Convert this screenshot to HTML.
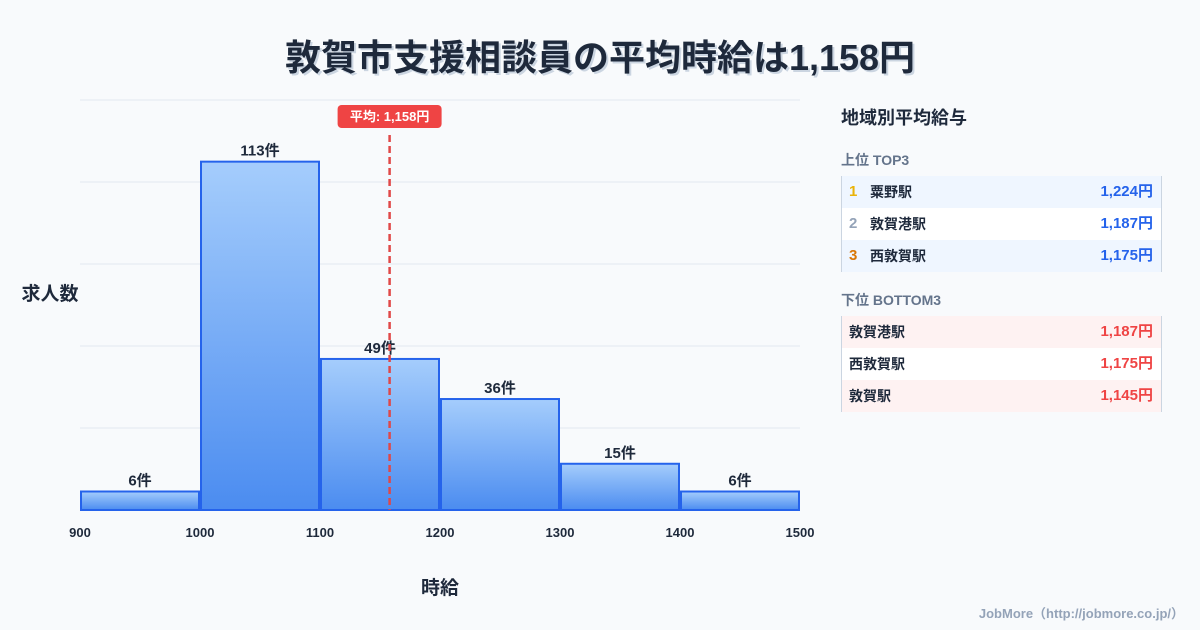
<!DOCTYPE html>
<html><head><meta charset="utf-8"><style>
body{margin:0;width:1200px;height:630px;background:#f8fafc;font-family:"Liberation Sans","Noto Sans CJK JP",sans-serif;position:relative;overflow:hidden;color:#1e293b}
.abs{position:absolute}
.title{left:0;width:1200px;top:29px;text-align:center;font-size:36px;font-weight:bold;color:#1e293b;text-shadow:2px 2px 0 #cbd5e1}
.row{position:absolute;left:841px;width:319px;height:32px;border-left:1px solid #cbd5e1;border-right:1px solid #cbd5e1;font-size:14px;font-weight:bold;line-height:32px}
.row .n{position:absolute;left:7px;font-size:15px}
.row .s{position:absolute;left:28px;font-weight:bold}
.row .v{position:absolute;right:8px;font-size:15px}
.b .s{left:7px}
</style></head><body>
<div class="abs title">敦賀市支援相談員の平均時給は1,158円</div>
<svg class="abs" style="left:0;top:0" width="820" height="630">
<defs><linearGradient id="g" x1="0" y1="0" x2="0" y2="1"><stop offset="0" stop-color="#a5cdfc"/><stop offset="1" stop-color="#4b8cf0"/></linearGradient></defs>
<g id="grid"></g><g id="bars"></g><g id="ticks"></g><g id="mean"></g>
<text x="50" y="300" text-anchor="middle" font-size="19" font-weight="bold" fill="#1e293b">求人数</text>
<text x="440" y="594" text-anchor="middle" font-size="19" font-weight="bold" fill="#1e293b">時給</text>
</svg>
<div class="abs" style="left:841px;top:104px;font-size:18px;font-weight:bold">地域別平均給与</div>
<div class="abs" style="left:841px;top:150px;font-size:14px;font-weight:bold;color:#64748b">上位 TOP3</div>
<div class="row" style="top:176px;background:#eff6ff"><span class="n" style="color:#eab308">1</span><span class="s">粟野駅</span><span class="v" style="color:#2563eb">1,224円</span></div>
<div class="row" style="top:208px;background:#fff"><span class="n" style="color:#94a3b8">2</span><span class="s">敦賀港駅</span><span class="v" style="color:#2563eb">1,187円</span></div>
<div class="row" style="top:240px;background:#eff6ff"><span class="n" style="color:#d97706">3</span><span class="s">西敦賀駅</span><span class="v" style="color:#2563eb">1,175円</span></div>
<div class="abs" style="left:841px;top:290px;font-size:14px;font-weight:bold;color:#64748b">下位 BOTTOM3</div>
<div class="row b" style="top:316px;background:#fef2f2"><span class="s">敦賀港駅</span><span class="v" style="color:#ef4444">1,187円</span></div>
<div class="row b" style="top:348px;background:#fff"><span class="s">西敦賀駅</span><span class="v" style="color:#ef4444">1,175円</span></div>
<div class="row b" style="top:380px;background:#fef2f2"><span class="s">敦賀駅</span><span class="v" style="color:#ef4444">1,145円</span></div>
<div class="abs" style="right:16px;top:603px;font-size:13px;font-weight:bold;color:#94a3b8">JobMore（http://jobmore.co.jp/）</div>
<script>
const binStarts=[900,1000,1100,1200,1300,1400];
const counts=[6,113,49,36,15,6];
const xTicks=[900,1000,1100,1200,1300,1400,1500];
const meanValue=1158;
const yMax=133;
const NS="http://www.w3.org/2000/svg";
const x=v=>80+(v-900)*720/600, y=v=>510-v*410/yMax;
function mk(t,a,p){const e=document.createElementNS(NS,t);for(const k in a)e.setAttribute(k,a[k]);p.appendChild(e);return e;}
const grid=document.getElementById('grid');
for(let i=0;i<6;i++){const l=mk('line',{x1:80,x2:800,y1:100+i*82,y2:100+i*82,stroke:'#e2e8f0','stroke-width':1},grid);

}
const bars=document.getElementById('bars');
counts.forEach((c,i)=>{const x0=x(binStarts[i])+1,x1=x(binStarts[i]+100)-1;
const r=mk('rect',{x:x0,y:y(c),width:x1-x0,height:510-y(c),fill:'url(#g)',stroke:'#2563eb','stroke-width':2},bars);


const t=mk('text',{x:(x0+x1)/2,y:y(c)-6,'text-anchor':'middle','font-size':15,'font-weight':'bold',fill:'#1e293b'},bars);t.textContent=c+'件';

});
const tk=document.getElementById('ticks');
xTicks.forEach(v=>{const t=mk('text',{x:x(v),y:537,'text-anchor':'middle','font-size':13,'font-weight':'bold',fill:'#1e293b'},tk);t.textContent=v;

});
const m=document.getElementById('mean');const mx=x(meanValue);
const ml=mk('line',{x1:mx,x2:mx,y1:135,y2:510,stroke:'#e04848','stroke-width':2.5,'stroke-dasharray':'7,4'},m);


const mr=mk('rect',{x:mx-52,y:105,width:104,height:23,rx:4,fill:'#ef4444'},m);


const mt=mk('text',{x:mx,y:121,'text-anchor':'middle','font-size':13,'font-weight':'bold',fill:'#fff'},m);mt.textContent='平均: 1,158円';


</script>
</body></html>
